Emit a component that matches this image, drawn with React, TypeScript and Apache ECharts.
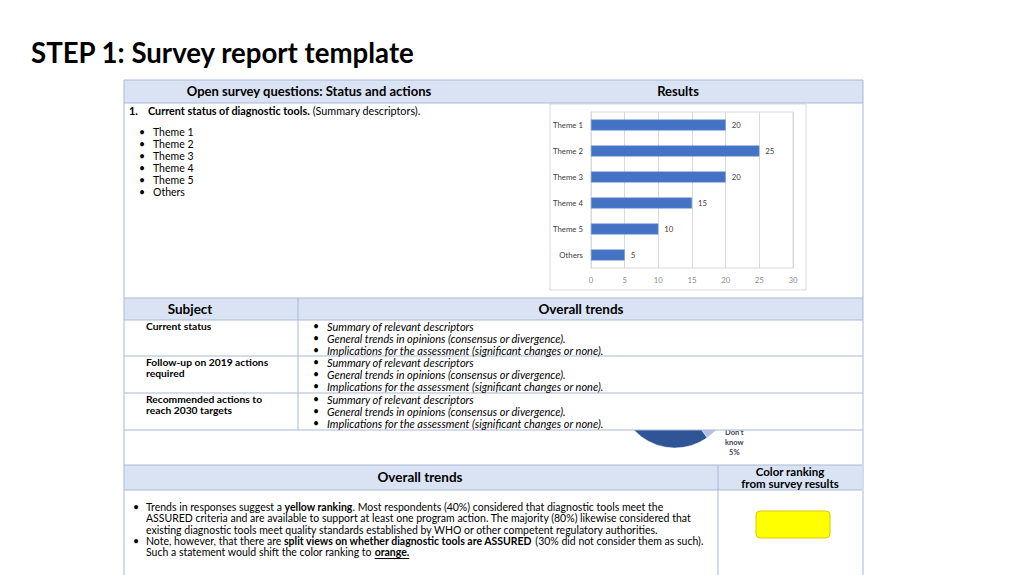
import React, { useEffect, useRef } from 'react';
import * as echarts from 'echarts';

// bar chart (results of question 1)
const themeCategories = ['Theme 1', 'Theme 2', 'Theme 3', 'Theme 4', 'Theme 5', 'Others'];
const themeCounts = [20, 25, 20, 15, 10, 5];

// pie that peeks out below the trends table
const pieNames = ["Don't know", 'Yes', 'No', 'Partially'];
const pieValues = [5, 40, 30, 25];
const pieColors = ['#b4c2e2', '#2f5597', '#4472c4', '#8faadc'];

const subjects = [
  ['Current status'],
  ['Follow-up on 2019 actions', 'required'],
  ['Recommended actions to', 'reach 2030 targets'],
];
const trendBullets = [
  'Summary of relevant descriptors',
  'General trends in opinions (consensus or divergence).',
  'Implications for the assessment (significant changes or none).',
];
const summaryLines = [
  { bullet: true, text: 'Trends in responses suggest a {b|yellow ranking}. Most respondents (40%) considered that diagnostic tools meet the' },
  { bullet: false, text: 'ASSURED criteria and are available to support at least one program action. The majority (80%) likewise considered that' },
  { bullet: false, text: 'existing diagnostic tools meet quality standards established by WHO or other competent regulatory authorities.' },
  { bullet: true, text: 'Note, however, that there are {b|split views on whether diagnostic tools are ASSURED} (30% did not consider them as such).' },
  { bullet: false, text: 'Such a statement would shift the color ranking to {b|orange.}' },
];

const FONT = 'Lato';
const LINE = '#a9b9d6';
const HEAD = '#dae3f3';
const BODY = 10.5;

const txt = (x: number, y: number, text: string, extra: any = {}) => ({
  type: 'text',
  x,
  y,
  z: 20,
  style: {
    text,
    fill: '#000',
    fontFamily: FONT,
    fontSize: BODY,
    align: 'left',
    verticalAlign: 'middle',
    textAlign: 'left',
    textVerticalAlign: 'middle',
    ...extra,
  },
});
const hline = (x1: number, x2: number, y: number, color = LINE) => ({
  type: 'line', z: 15, shape: { x1, y1: y, x2, y2: y }, style: { stroke: color, lineWidth: 1 },
});
const vline = (x: number, y1: number, y2: number, color = LINE) => ({
  type: 'line', z: 15, shape: { x1: x, y1, x2: x, y2 }, style: { stroke: color, lineWidth: 1 },
});
const box = (x: number, y: number, width: number, height: number, fill: string, z = 5) => ({
  type: 'rect', z, shape: { x, y, width, height }, style: { fill },
});

// width of a piece of text, for the underline under "orange."
const measure = (s: string, font: string) => {
  const ctx = document.createElement('canvas').getContext('2d');
  if (!ctx) return s.length * 5;
  ctx.font = font;
  return ctx.measureText(s).width;
};

const App: React.FC = () => {
  const chartRef = useRef<HTMLDivElement>(null);

  useEffect(() => {
    if (!chartRef.current) return;
    const chart = echarts.init(chartRef.current, undefined, { renderer: 'svg' });

    const richFor = (size: number) => ({ b: { fontFamily: FONT, fontSize: size, fontWeight: 'bold', fill: '#000' } });
    const graphics: any[] = [];

    // title
    graphics.push(txt(31, 52, 'STEP 1: Survey report template', { fontSize: 27.6, fontWeight: 'bold' }));

    // top table
    graphics.push(box(124, 80, 739, 23, HEAD, 6));
    graphics.push(hline(124, 863, 80), hline(124, 863, 103));
    graphics.push(txt(309, 91, 'Open survey questions: Status and actions', { fontSize: 13, fontWeight: 'bold', align: 'center', textAlign: 'center' }));
    graphics.push(txt(678, 91, 'Results', { fontSize: 13, fontWeight: 'bold', align: 'center', textAlign: 'center' }));
    graphics.push(txt(129, 110, '1.', { fontWeight: 'bold', fontSize: 10.8 }));
    graphics.push(txt(148, 110, '{b|Current status of diagnostic tools.} (Summary descriptors).', { fontSize: 10.8, rich: richFor(10.8) }));
    themeCategories.forEach((t, i) => {
      graphics.push(txt(139, 132 + i * 12, '•'));
      graphics.push(txt(153, 132 + i * 12, t));
    });
    // picture frame of the bar chart
    graphics.push({
      type: 'rect', z: -1, shape: { x: 550, y: 104, width: 256, height: 186 },
      style: { fill: '#fff', stroke: '#d9d9d9', lineWidth: 1 },
    });

    // middle table (covers the pie)
    graphics.push(box(124, 298, 739, 132, '#fff', 5));
    graphics.push(box(124, 298, 739, 22, HEAD, 6));
    graphics.push(hline(124, 863, 298), hline(124, 863, 320), hline(124, 863, 356), hline(124, 863, 393), hline(124, 863, 430));
    graphics.push(vline(298, 298, 430));
    graphics.push(txt(190, 309, 'Subject', { fontSize: 13.5, fontWeight: 'bold', align: 'center', textAlign: 'center' }));
    graphics.push(txt(581, 309, 'Overall trends', { fontSize: 13.5, fontWeight: 'bold', align: 'center', textAlign: 'center' }));
    const rowTops = [326, 362, 399];
    subjects.forEach((lines, r) => {
      lines.forEach((l, k) => graphics.push(txt(146, rowTops[r] + k * 11, l, { fontWeight: 'bold', fontSize: 10.3 })));
      trendBullets.forEach((b, k) => {
        graphics.push(txt(313, rowTops[r] + k * 12, '•'));
        graphics.push(txt(327, rowTops[r] + k * 12, b, { fontStyle: 'italic', fontSize: 11 }));
      });
    });

    // bottom table
    graphics.push(box(124, 465, 738, 25, HEAD, 6));
    graphics.push(hline(124, 862, 465), hline(124, 862, 490));
    graphics.push(vline(718, 465, 575));
    graphics.push(txt(420, 477, 'Overall trends', { fontSize: 13.5, fontWeight: 'bold', align: 'center', textAlign: 'center' }));
    graphics.push(txt(790, 471, 'Color ranking', { fontSize: 11.5, fontWeight: 'bold', align: 'center', textAlign: 'center' }));
    graphics.push(txt(790, 483.5, 'from survey results', { fontSize: 11.5, fontWeight: 'bold', align: 'center', textAlign: 'center' }));
    summaryLines.forEach((l, i) => {
      const y = 507 + i * 11.3;
      if (l.bullet) graphics.push(txt(133, y, '•'));
      graphics.push(txt(146, y, l.text, { rich: richFor(BODY) }));
    });
    const uStart = 146 + measure('Such a statement would shift the color ranking to ', `${BODY}px ${FONT}`);
    const uEnd = uStart + measure('orange.', `bold ${BODY}px ${FONT}`);
    graphics.push(hline(uStart, uEnd, 558.5, '#000'));
    graphics.push({
      type: 'rect', z: 20, shape: { x: 756, y: 511, width: 74, height: 27, r: 4 },
      style: { fill: '#ffff00', stroke: '#e0c800', lineWidth: 1 },
    });

    // outer borders
    graphics.push(vline(124, 80, 575), vline(863, 80, 575));

    const option = {
      animation: false,
      backgroundColor: '#fff',
      textStyle: { fontFamily: FONT },
      grid: {
        left: 591, right: 231, top: 112, bottom: 307,
        show: true, borderColor: '#d9d9d9', borderWidth: 1, z: 0,
      },
      xAxis: {
        type: 'value', min: 0, max: 30, interval: 5,
        axisLine: { show: false },
        axisTick: { show: false },
        axisLabel: { fontSize: 7.8, color: '#8c8c8c', margin: 8 },
        splitLine: { lineStyle: { color: '#d9d9d9' } },
        z: 1,
      },
      yAxis: {
        type: 'category', inverse: true, data: themeCategories,
        axisLine: { lineStyle: { color: '#d9d9d9' } },
        axisTick: { show: false },
        axisLabel: { fontSize: 7.8, color: '#404040', margin: 8 },
        z: 1,
      },
      series: [
        {
          type: 'bar',
          data: themeCounts,
          barWidth: 11,
          z: 2,
          itemStyle: { color: '#4472c4', borderColor: '#6f93d6', borderWidth: 0.5 },
          label: { show: true, position: 'right', distance: 6, fontSize: 7.8, color: '#404040' },
        },
        {
          type: 'pie',
          center: [675, 392],
          radius: 56,
          startAngle: -37,
          clockwise: true,
          z: 2,
          label: { show: false },
          labelLine: { show: false, length: 2, length2: 0 },
          labelLayout: { align: 'center', dx: 14, dy: 9 },
          data: pieNames.map((name, i) => ({
            name,
            value: pieValues[i],
            itemStyle: { color: pieColors[i], borderColor: '#fff', borderWidth: 0.5 },
            label: i === 0
              ? {
                  show: true, position: 'outside', fontSize: 7.5, fontWeight: 'bold', color: '#3b3f57', lineHeight: 10,
                  formatter: (p: any) => `${p.name.replace(' ', '\n')}\n${p.percent}%`,
                }
              : { show: false },
          })),
        },
      ],
      graphic: { elements: graphics },
    };

    chart.setOption(option);
    const onResize = () => chart.resize();
    window.addEventListener('resize', onResize);
    return () => {
      window.removeEventListener('resize', onResize);
      chart.dispose();
    };
  }, []);

  return (
    <div
      ref={chartRef}
      style={{ position: 'fixed', left: 0, top: 0, width: '1024px', height: '575px', background: '#fff' }}
    />
  );
};

export default App;
